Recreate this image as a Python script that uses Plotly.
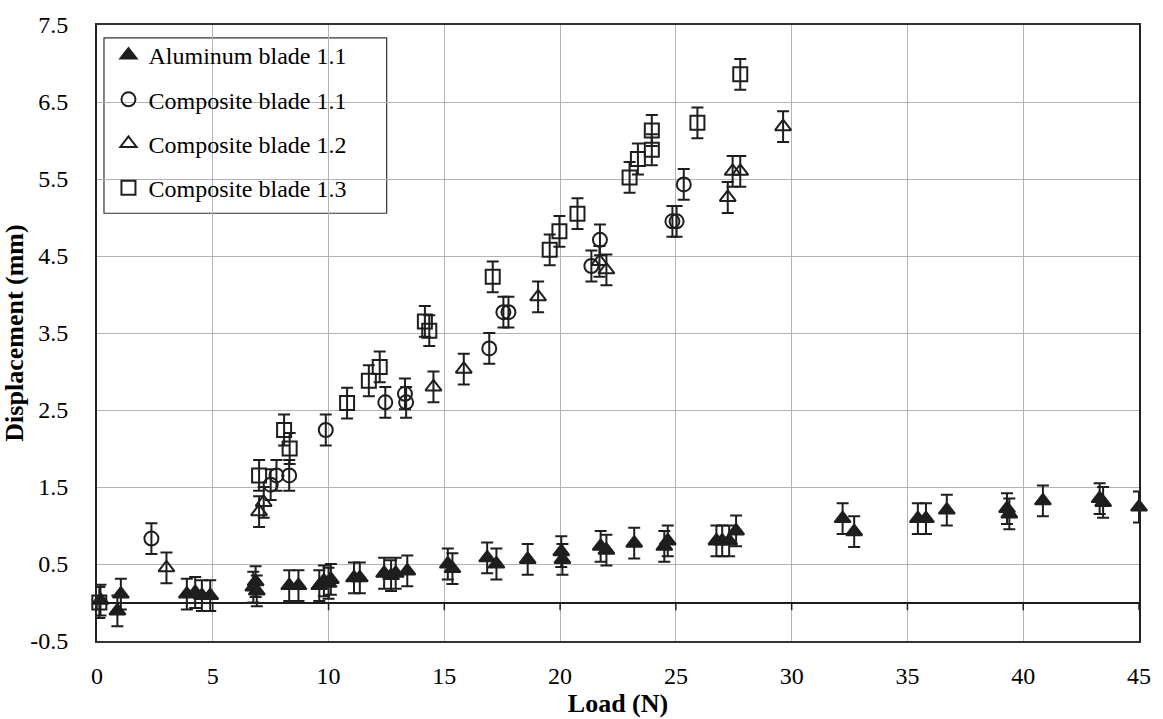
import plotly.graph_objects as go

# ---- data ----
alu_x = [0.15, 0.88, 1.03, 3.88, 4.24, 4.53, 4.89, 6.75, 6.85, 6.9, 8.3, 8.7, 9.6, 9.8, 10.0, 10.1,
         11.1, 11.35, 12.4, 12.7, 12.9, 13.4, 15.15, 15.35, 16.85, 17.25, 18.6, 20.05, 20.1,
         21.75, 22.0, 23.2, 24.5, 24.65, 26.75, 27.0, 27.3, 27.6, 32.2, 32.7, 35.45, 35.8, 36.7,
         39.3, 39.4, 40.85, 43.3, 43.45, 45.0]
alu_y = [0.03, -0.11, 0.11, 0.11, 0.13, 0.09, 0.09, 0.2, 0.27, 0.15, 0.22, 0.22, 0.22, 0.28, 0.25, 0.3,
         0.32, 0.32, 0.38, 0.35, 0.38, 0.41, 0.5, 0.44, 0.58, 0.5, 0.56, 0.66, 0.56,
         0.73, 0.68, 0.77, 0.73, 0.8, 0.8, 0.8, 0.8, 0.93, 1.09, 0.92, 1.09, 1.09, 1.2,
         1.22, 1.15, 1.32, 1.35, 1.3, 1.24]

c11_x = [2.35, 7.5, 7.75, 8.3, 9.88, 12.45, 13.3, 13.35, 16.94, 17.55, 17.77, 21.35, 21.72, 24.85, 25.03, 25.34]
c11_y = [0.83, 1.53, 1.65, 1.65, 2.24, 2.6, 2.71, 2.6, 3.3, 3.77, 3.77, 4.37, 4.71, 4.95, 4.95, 5.43]

c12_x = [3.0, 7.0, 7.2, 14.53, 15.84, 19.05, 21.7, 22.0, 27.24, 27.45, 27.78, 29.63]
c12_y = [0.45, 1.18, 1.3, 2.8, 3.03, 3.97, 4.43, 4.32, 5.26, 5.6, 5.6, 6.18]

c13_x = [0.1, 7.0, 8.08, 8.32, 10.8, 11.74, 12.21, 14.16, 14.35, 17.09, 19.55, 19.97, 20.75,
         23.0, 23.36, 23.96, 23.96, 25.93, 27.78]
c13_y = [0.0, 1.65, 2.24, 2.0, 2.59, 2.88, 3.06, 3.65, 3.53, 4.23, 4.58, 4.82, 5.05,
         5.52, 5.76, 5.88, 6.13, 6.23, 6.86]

error_value = 0.2

names = ["Aluminum blade 1.1", "Composite blade 1.1", "Composite blade 1.2", "Composite blade 1.3"]
x_ticks = [0, 5, 10, 15, 20, 25, 30, 35, 40, 45]
y_ticks = [-0.5, 0.5, 1.5, 2.5, 3.5, 4.5, 5.5, 6.5, 7.5]

FONT = "Liberation Serif"
INK = "#1e1e1e"

series = [
    (alu_x, alu_y, names[0], "triangle-up", INK),
    (c11_x, c11_y, names[1], "circle-open", INK),
    (c12_x, c12_y, names[2], "triangle-up-open", INK),
    (c13_x, c13_y, names[3], "square-open", INK),
]

fig = go.Figure()
for i, (xs, ys, nm, sym, col) in enumerate(series):
    fig.add_trace(go.Scatter(
        x=xs, y=ys, name=nm, mode="markers", legendgroup=nm,
        cliponaxis=False,
        marker=dict(symbol=sym, size=14, color=col,
                    line=dict(color=col, width=2)),
        error_y=dict(type="constant", value=error_value, color=INK, thickness=2, width=6),
    ))

# small downward tick marks on the y=0 axis line
for t in x_ticks:
    fig.add_shape(type="line", xref="x", yref="y", x0=t, x1=t, y0=0, y1=-0.1,
                  line=dict(color=INK, width=1.5), layer="above")

# legend frame
fig.add_shape(type="rect", xref="paper", yref="paper",
              x0=0.0067, x1=0.278, y0=0.6944, y1=0.979,
              line=dict(color="#333", width=1.2), fillcolor="white", layer="below")

tick_font = dict(family=FONT, size=24, color="black")

fig.update_layout(
    width=1163, height=719,
    margin=dict(l=89, r=21, t=20, b=74),
    plot_bgcolor="white", paper_bgcolor="white",
    font=dict(family=FONT, size=24, color="black"),
    showlegend=True,
    legend=dict(
        x=0.011, y=0.987, xanchor="left", yanchor="top",
        bgcolor="rgba(0,0,0,0)", borderwidth=0,
        font=dict(family=FONT, size=24, color="black"),
        traceorder="grouped", tracegroupgap=10,
        itemwidth=30,
    ),
    xaxis=dict(
        range=[0, 45], tickvals=x_ticks, ticktext=[str(t) for t in x_ticks],
        tickfont=tick_font,
        showgrid=True, gridcolor="#b3b3b3", gridwidth=1,
        showline=True, mirror=True, linecolor="#333", linewidth=1.5,
        ticks="", zeroline=False, ticklabelstandoff=12,
        title=dict(text="<b>Load (N)</b>", font=dict(family=FONT, size=26), standoff=0),
    ),
    yaxis=dict(
        range=[-0.5, 7.5], tickvals=y_ticks, ticktext=[f"{v:.1f}" for v in y_ticks],
        tickfont=tick_font,
        showgrid=True, gridcolor="#b3b3b3", gridwidth=1,
        showline=True, mirror=True, linecolor="#222", linewidth=2,
        ticks="", zeroline=True, zerolinecolor=INK, zerolinewidth=2,
        ticklabelstandoff=22,
        title=dict(text="<b>Displacement (mm)</b>", font=dict(family=FONT, size=26), standoff=0),
    ),
)

fig.write_html("out.html")
